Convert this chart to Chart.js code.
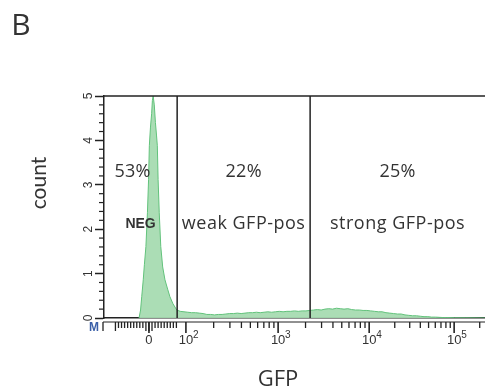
<!DOCTYPE html>
<html lang="en">
<head>
    <meta charset="UTF-8">
    <title>GFP</title>
    <script src="https://cdn.jsdelivr.net/npm/chart.js"></script>
    <style>
        body {
            margin: 0;
            background: #fff;
        }

        #wrap {
            position: relative;
            width: 485px;
            height: 391px;
        }
    </style>
</head>
<body>
    <div id="wrap">
        <canvas id="miGrafica" width="485" height="391"></canvas>
    </div>

<script>
    // histograma: canal (escala logicle 0-1000) y cuenta
    const canales = [92, 96, 99, 103, 106, 110, 114, 117, 119, 122, 125, 127, 129, 132, 135, 138, 140, 142, 145, 149,
        154, 160, 167, 173, 181, 191, 200, 210, 220, 230, 240, 250, 260, 270, 280, 290, 300, 310, 320, 330, 340, 350,
        360, 370, 380, 390, 400, 410, 420, 430, 440, 450, 460, 470, 480, 490, 500, 510, 520, 530, 540, 550, 560, 570,
        580, 590, 600, 610, 620, 630, 640, 650, 660, 670, 680, 690, 700, 710, 720, 730, 740, 750, 760, 770, 780, 790,
        800, 810, 820, 830, 840, 850, 860, 870, 880, 890, 900, 920, 950, 1000];
    const cuentas = [0, 0.18, 0.48, 0.86, 1.2, 1.61, 2.37, 3.12, 3.88, 4.3, 4.6, 4.9, 5.0, 4.8, 4.4, 4.1, 3.88, 3.12, 2.37, 1.61,
        1.15, 0.86, 0.65, 0.48, 0.32, 0.18, 0.15, 0.14, 0.13, 0.12, 0.12, 0.11, 0.10, 0.08, 0.08, 0.07, 0.08, 0.08, 0.09, 0.10, 0.10, 0.11,
        0.10, 0.11, 0.12, 0.12, 0.13, 0.12, 0.13, 0.14, 0.13, 0.14, 0.15, 0.14, 0.15, 0.15, 0.16, 0.15, 0.16, 0.16, 0.17, 0.18, 0.19, 0.18,
        0.20, 0.21, 0.20, 0.22, 0.21, 0.20, 0.21, 0.19, 0.18, 0.18, 0.17, 0.17, 0.16, 0.15, 0.14, 0.14, 0.12, 0.11, 0.10, 0.09, 0.09, 0.07,
        0.06, 0.05, 0.05, 0.04, 0.03, 0.03, 0.02, 0.02, 0.015, 0.01, 0.01, 0.005, 0.003, 0];

    // ticks del eje x (base y exponente)
    const ticksCanal = [118, 215, 457, 696, 919];
    const ticksBase = ['0', '10', '10', '10', '10'];
    const ticksExp = ['', '2', '3', '4', '5'];

    // puertas y regiones
    const puertas = [192, 541];
    const regiones = ['NEG', 'weak GFP-pos', 'strong GFP-pos'];
    const porcentajes = ['53%', '22%', '25%'];

    function linea(ctx, x1, y1, x2, y2) {
        ctx.beginPath();
        ctx.moveTo(x1, y1);
        ctx.lineTo(x2, y2);
        ctx.stroke();
    }

    // dibuja el marco, las puertas, ticks menores y textos
    const extras = {
        id: 'extras',
        afterDraw(chart) {
            const ctx = chart.ctx;
            const a = chart.chartArea;
            const x = chart.scales.x;
            const y = chart.scales.y;
            ctx.save();
            ctx.strokeStyle = '#222';
            ctx.lineWidth = 1.5;
            linea(ctx, a.left, a.top, a.right, a.top);
            puertas.forEach(p => {
                const px = x.getPixelForValue(p);
                linea(ctx, px, a.top, px, a.bottom);
            });

            // segunda linea del eje x con sus ticks
            const y0 = a.bottom + 4;
            ctx.lineWidth = 1;
            linea(ctx, a.left - 1, y0, a.right, y0);
            ctx.lineWidth = 1.6;
            ticksCanal.forEach(t => {
                const px = x.getPixelForValue(t);
                linea(ctx, px, y0, px, y0 + 11);
            });
            ctx.lineWidth = 1.3;
            linea(ctx, a.left - 1, y0, a.left - 1, y0 + 9);
            // zona lineal alrededor de 0
            for (let c = 30; c <= 196; c += 8) {
                const px = x.getPixelForValue(c);
                const largo = (c === 30 || Math.abs(c - ticksCanal[0]) < 9) ? 9 : 6;
                linea(ctx, px, y0, px, y0 + largo);
            }
            // decadas
            for (let i = 1; i < ticksCanal.length; i++) {
                const ini = ticksCanal[i];
                const fin = i + 1 < ticksCanal.length ? ticksCanal[i + 1] : ini + (ini - ticksCanal[i - 1]);
                for (let k = 2; k <= 9; k++) {
                    const c = ini + Math.log10(k) * (fin - ini);
                    if (c > x.max) break;
                    const px = x.getPixelForValue(c);
                    linea(ctx, px, y0, px, y0 + 6);
                }
            }

            // exponentes de las etiquetas del eje x
            ctx.fillStyle = '#333';
            ctx.textAlign = 'left';
            ctx.textBaseline = 'middle';
            ctx.font = '10px "Liberation Sans"';
            ticksCanal.forEach((t, i) => {
                if (!ticksExp[i]) return;
                ctx.fillText(ticksExp[i], x.getPixelForValue(t) + 7, a.bottom + 17);
            });

            // ticks menores del eje y
            ctx.lineWidth = 1.2;
            for (let v = 0.2; v < 5; v += 0.2) {
                if (Math.abs(v - Math.round(v)) < 0.01) continue;
                const py = y.getPixelForValue(v);
                linea(ctx, a.left, py, a.left - 5, py);
            }

            // textos de las regiones
            const limites = [x.min, puertas[0], puertas[1], x.max];
            ctx.textAlign = 'center';
            ctx.fillStyle = '#333';
            for (let i = 0; i < regiones.length; i++) {
                const px = x.getPixelForValue((limites[i] + limites[i + 1]) / 2);
                ctx.letterSpacing = '0.3px';
                ctx.font = '18px "Open Sans"';
                ctx.fillText(porcentajes[i], i === 0 ? px - 8 : px, y.getPixelForValue(3.3));
                if (i === 0) {
                    ctx.letterSpacing = '0px';
                    ctx.font = 'bold 14px "Liberation Sans"';
                } else {
                    ctx.letterSpacing = '0.5px';
                    ctx.font = '18px "Open Sans"';
                }
                ctx.fillText(regiones[i], px, y.getPixelForValue(2.12));
            }
            ctx.letterSpacing = '0px';

            // titulos
            ctx.font = '30px "Open Sans"';
            ctx.fillText('B', 21, 26);
            ctx.font = '22px "Open Sans"';
            ctx.fillText('GFP', 278, 380);
            ctx.save();
            ctx.translate(39, 183);
            ctx.rotate(-Math.PI / 2);
            ctx.font = '21px "Lato"';
            ctx.fillText('count', 0, 0);
            ctx.restore();
            ctx.fillStyle = '#3a5fa8';
            ctx.font = 'bold 12px "Liberation Sans"';
            ctx.fillText('M', 94, 328);
            ctx.restore();
        }
    };

    const ctx = document.getElementById('miGrafica').getContext('2d');
    let chart = new Chart(ctx, {
        type: 'line',
        data: {
            datasets: [{
                label: 'GFP',
                data: canales.map((c, i) => ({ x: c, y: cuentas[i] })),
                borderColor: '#62c27b',
                borderWidth: 1,
                backgroundColor: 'rgba(166, 219, 177, 0.95)',
                fill: 'origin',
                pointRadius: 0,
                tension: 0
            }]
        },
        options: {
            responsive: false,
            animation: false,
            devicePixelRatio: 1,
            layout: {
                padding: { top: 96, left: 0, right: 0, bottom: 0 }
            },
            plugins: {
                legend: { display: false },
                tooltip: { enabled: false }
            },
            scales: {
                x: {
                    type: 'linear',
                    min: 0,
                    max: 1000,
                    afterFit: (scale) => { scale.height = 73; },
                    afterBuildTicks: (scale) => { scale.ticks = ticksCanal.map(v => ({ value: v })); },
                    grid: {
                        drawOnChartArea: false,
                        drawTicks: true,
                        tickLength: 15,
                        tickColor: 'rgba(0,0,0,0)'
                    },
                    border: { color: '#222', width: 1.5 },
                    ticks: {
                        autoSkip: false,
                        maxRotation: 0,
                        padding: 0,
                        color: '#333',
                        font: { family: 'Liberation Sans', size: 13 },
                        callback: (v, i) => ticksBase[i]
                    }
                },
                y: {
                    min: 0,
                    max: 5,
                    afterFit: (scale) => { scale.width = 104; },
                    grid: {
                        drawOnChartArea: false,
                        tickLength: 9,
                        tickColor: '#222',
                        tickWidth: 1.5
                    },
                    border: { color: '#222', width: 1.5 },
                    ticks: {
                        stepSize: 1,
                        minRotation: 90,
                        maxRotation: 90,
                        crossAlign: 'center',
                        padding: 3,
                        color: '#333',
                        font: { family: 'Liberation Sans', size: 12 }
                    }
                }
            }
        },
        plugins: [extras]
    });
</script>
</body>
</html>
